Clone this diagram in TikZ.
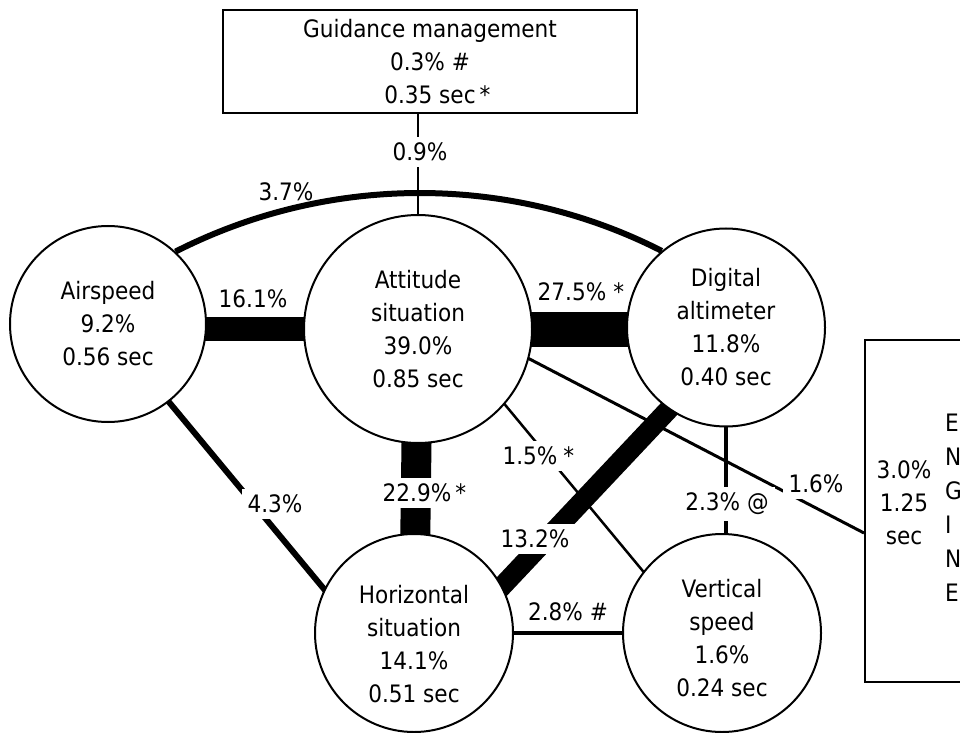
\documentclass[tikz,border=0pt]{standalone}
\usepackage{fontspec}
\setmainfont{DejaVu Sans Condensed}
\usetikzlibrary{backgrounds}
\pgfdeclarelayer{bottom}
\pgfsetlayers{bottom,background,main}
\begin{document}
\begin{tikzpicture}[x=1pt,y=1pt,
  txt/.style={font=\fontsize{24}{33}\selectfont, align=center},
  circ/.style={circle, draw, line width=2pt, fill=white, inner sep=0pt, txt},
  lab/.style={fill=white, inner sep=6pt, txt},
  plainlab/.style={inner sep=0pt, txt},
  conn/.style={line width=#1, shorten <=-4pt, shorten >=-4pt},
  bar/.style={line width=#1, shorten <=-15pt, shorten >=-15pt}
]
\useasboundingbox (0,0) rectangle (960,732);
\clip (0,0) rectangle (960,732);
\begin{pgfonlayer}{bottom}
\fill[white] (0,0) rectangle (960,732);
\end{pgfonlayer}

% boxes
\node[draw, line width=2pt, minimum width=414pt, minimum height=103pt, txt] (guidance) at (430,670.5)
  {Guidance management\\0.3\% \#\\0.35 sec\rlap{\,*}};
\node[draw, line width=2pt, minimum width=135pt, minimum height=342pt] (engine) at (932.5,221) {};
\node[plainlab] (engval) at (904,229) {3.0\%\\1.25\\sec};
\node[inner sep=0pt, font=\fontsize{24}{34}\selectfont, align=left, anchor=west] (engname) at (945,224.5)
  {E\\N\\G\\I\\N\\E};

% circles
\node[circ, minimum size=196pt] (airspeed) at (108,408) {Airspeed\\9.2\%\\0.56 sec};
\node[circ, minimum size=228pt] (attitude) at (418,403) {Attitude\\situation\\39.0\%\\0.85 sec};
\node[circ, minimum size=198pt] (digital) at (726,404.5) {Digital\\altimeter\\11.8\%\\0.40 sec};
\node[circ, minimum size=198pt] (horiz) at (414,99) {};
\node[plainlab] (horiztext) at (414,88) {Horizontal\\situation\\14.1\%\\0.51 sec};
\node[circ, minimum size=198pt] (vspeed) at (722,99) {};
\node[plainlab] (vspeedtext) at (722,94) {Vertical\\speed\\1.6\%\\0.24 sec};

% connectors
\begin{pgfonlayer}{background}
\draw[line width=2pt] (attitude.north) -- (attitude.north |- guidance.south);
\draw[line width=6pt] (airspeed.47) .. controls +(27:171) and +(153:171) .. (digital.130);
\draw[line width=24pt] (airspeed.center |- attitude.center) -- (attitude.center);
\draw[line width=35pt] (attitude.center) -- (attitude.center -| digital.center);
\draw[line width=30pt] (attitude.center) -- (horiz.center);
\draw[bar=20pt] (horiz.28) -- (digital.235);
\draw[conn=6pt] (airspeed.-52) -- (horiz.154);
\draw[conn=2.5pt] (attitude.-41) -- (vspeed.142);
\draw[line width=3pt, shorten <=-4pt] (attitude.-15) -- ([yshift=-22pt]engine.west);
\draw[conn=4pt] (digital.south) -- (digital.south |- vspeed.north);
\draw[conn=4pt] (horiz.east) -- (vspeed.west);
\end{pgfonlayer}

% labels
\node[lab] (l09) at (420,580) {0.9\%};
\node[plainlab] (l37) at (286,540) {3.7\%};
\node[plainlab] (l161) at (253,433) {16.1\%};
\node[plainlab] (l275) at (572,440) {27.5\%\rlap{\hspace{0.3em}*}};
\node[lab] (l229) at (417,239) {22.9\%\rlap{\,*}};
\node[lab] (l43) at (275,228) {4.3\%};
\node[lab] (l132) at (535,193) {13.2\%};
\node[lab] (l15) at (530,276) {1.5\%\rlap{\hspace{0.25em}*}};
\node[lab] (l16) at (816,248) {1.6\%};
\node[lab] (l23) at (727,228) {2.3\% @};
\node[plainlab] (l28) at (568,120) {2.8\% \#};
\end{tikzpicture}
\end{document}
